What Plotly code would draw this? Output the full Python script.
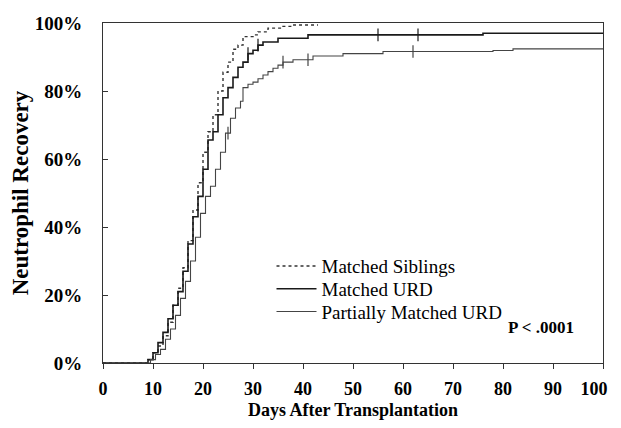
import numpy as np
import plotly.graph_objects as go

# ---- data (cumulative incidence, step functions: level from that day on) ----
sib_days = [0, 9, 10, 11, 12, 13, 14, 15, 16, 17, 18, 19, 20, 21, 22, 23, 24, 25, 26, 27, 28, 30, 31, 33, 36, 38, 43]
sib_vals = [0, 1, 3, 5, 8, 12, 17, 22, 28, 36, 45, 53, 62, 68, 73, 80, 85.5, 88.5, 92.3, 93.5, 96, 96.5, 97.4, 98.5, 99.0, 99.4, 99.4]

murd_days = [0, 9, 10, 11, 12, 13, 14, 15, 16, 17, 18, 19, 20, 21, 22, 23, 24, 25, 26, 27, 28, 29, 30, 31, 32, 35, 41, 76, 100]
murd_vals = [0, 1, 3, 6, 9, 13, 17, 21, 27, 35, 43, 49, 57, 65.6, 68, 73, 78, 81, 84, 87, 88.5, 91, 92, 93.5, 94.4, 95.5, 96.5, 97.0, 97.0]

pm_days = [0, 9.5, 10.5, 11.5, 12.5, 13.5, 14.5, 15.5, 16.5, 17.5, 18.5, 19.5, 20.5, 21.5, 22.5, 23.5, 24.5, 25.5, 26.5, 27.5, 28, 29, 30, 31, 32, 33, 34, 35, 36, 38, 42, 48, 56, 78, 82, 100]
pm_vals = [0, 1, 2.5, 4, 7, 10, 14, 19, 24, 30, 37, 44, 49, 52, 57, 62, 67.6, 72, 75, 77, 81, 82, 82.6, 83.6, 84.7, 85.7, 86.7, 87.6, 88.5, 89.2, 90.3, 91.0, 91.6, 91.9, 92.4, 92.4]

murd_censor = [29, 31, 55, 63]
pm_censor = [25, 36, 41, 62]

x_ticks = [0, 10, 20, 30, 40, 50, 60, 70, 80, 90, 100]
# last label padded with figure spaces so it stays inside the visible window
x_tick_text = ["0", "10", "20", "30", "40", "50", "60", "70", "80", "90", "100\u2007\u2007"]
y_ticks = [0, 20, 40, 60, 80, 100]
y_tick_text = ["0%", "20%", "40%", "60%", "80%", "100%"]


def step_at(days, vals, c):
    i = np.searchsorted(np.array(days), c, side="right") - 1
    return vals[i]


SERIF = "Liberation Serif, Times New Roman, serif"

fig = go.Figure()
fig.add_trace(go.Scatter(x=sib_days, y=sib_vals, mode="lines", line_shape="hv",
                         line=dict(color="#333333", width=1.4, dash="dot"),
                         name="Matched Siblings", legend="legend"))
fig.add_trace(go.Scatter(x=murd_days, y=murd_vals, mode="lines", line_shape="hv",
                         line=dict(color="#1a1a1a", width=1.6),
                         name="Matched URD", legend="legend2"))
fig.add_trace(go.Scatter(x=pm_days, y=pm_vals, mode="lines", line_shape="hv",
                         line=dict(color="#444444", width=1.1),
                         name="Partially Matched URD", legend="legend3"))
fig.add_trace(go.Scatter(x=murd_censor, y=[step_at(murd_days, murd_vals, c) for c in murd_censor],
                         mode="markers", showlegend=False, hoverinfo="skip",
                         marker=dict(symbol="line-ns", size=9, line=dict(color="#1a1a1a", width=1.2))))
fig.add_trace(go.Scatter(x=pm_censor, y=[step_at(pm_days, pm_vals, c) for c in pm_censor],
                         mode="markers", showlegend=False, hoverinfo="skip",
                         marker=dict(symbol="line-ns", size=9, line=dict(color="#444444", width=1.2))))

fig.add_annotation(x=0.945, y=0.105, xref="paper", yref="paper", text="P < .0001",
                   showarrow=False, xanchor="right", yanchor="middle",
                   font=dict(family=SERIF, size=17, color="black", weight="bold"))

leg_common = dict(x=0.337, xanchor="left", yanchor="middle",
                  bgcolor="rgba(0,0,0,0)", borderwidth=0,
                  font=dict(family=SERIF, size=19, color="black"),
                  itemwidth=40)

fig.update_layout(
    width=613, height=412,
    margin=dict(l=95, r=18, t=15, b=57),
    paper_bgcolor="white", plot_bgcolor="white",
    font=dict(family=SERIF, color="black"),
    showlegend=True,
    legend=dict(y=0.285, **leg_common),
    legend2=dict(y=0.218, **leg_common),
    legend3=dict(y=0.151, **leg_common),
    xaxis=dict(range=[0, 100], tickvals=x_ticks, ticktext=x_tick_text,
               automargin=False, ticklabeloverflow="allow",
               showgrid=False, zeroline=False, showline=True, linecolor="#333", linewidth=1,
               mirror=True, ticks="outside", ticklen=5, tickcolor="#333",
               ticklabelstandoff=4,
               tickfont=dict(family=SERIF, size=18, color="black", weight="bold"),
               title=dict(text="Days After Transplantation", standoff=20,
                          font=dict(family=SERIF, size=18, color="black", weight="bold"))),
    yaxis=dict(range=[0, 100], tickvals=y_ticks, ticktext=y_tick_text,
               automargin=False,
               showgrid=False, zeroline=False, showline=True, linecolor="#333", linewidth=1,
               mirror=True, ticks="inside", ticklen=5, tickcolor="#333",
               ticklabelstandoff=16,
               tickfont=dict(family=SERIF, size=19, color="black", weight="bold"),
               title=dict(text="Neutrophil Recovery", standoff=5,
                          font=dict(family=SERIF, size=23, color="black", weight="bold"))),
)

fig.write_html("out.html")
